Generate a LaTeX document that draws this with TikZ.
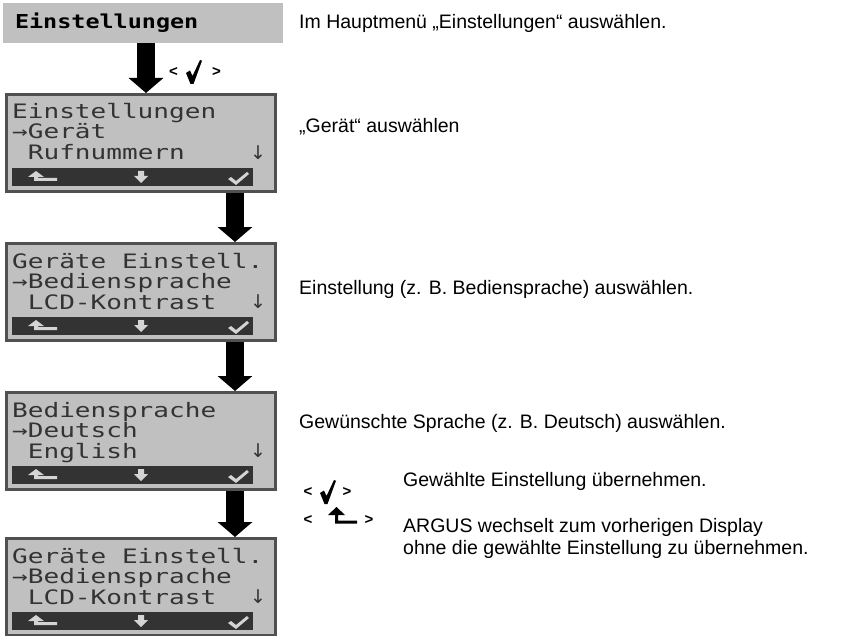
\documentclass[tikz,border=0pt]{standalone}
\usepackage{fontspec}
\setmainfont{Liberation Sans}
\newfontfamily\lcdfont[FakeStretch=1.31]{DejaVu Sans Mono}
\newfontfamily\hdrfont[FakeStretch=1.22]{DejaVu Sans Mono}
\newfontfamily\markfont{DejaVu Sans}
\usetikzlibrary{arrows.meta}

\definecolor{lcdgrey}{HTML}{C0C0C0}
\definecolor{lcdink}{HTML}{333333}
\definecolor{lcdframe}{HTML}{505050}
\definecolor{barkey}{HTML}{D4D4D4}

\tikzset{
	hdrbox/.style={fill=lcdgrey,anchor=north west,minimum width=280pt,minimum height=40pt,text width=256pt,inner xsep=12pt,inner ysep=0pt,outer sep=0pt,align=left,font=\hdrfont\bfseries\fontsize{19.2}{20}\selectfont},
	lcdbox/.style={draw=lcdframe,line width=3pt,fill=lcdgrey,anchor=north west,minimum width=269pt,minimum height=97pt,inner sep=0pt},
	lcdbar/.style={fill=lcdink,anchor=north west,minimum width=241pt,minimum height=18pt,inner sep=0pt,outer sep=0pt},
	lcdline/.style={anchor=base west,inner sep=0pt,text=lcdink,font=\lcdfont\fontsize{19.9}{20}\selectfont},
	lcdmore/.style={inner sep=0pt,text=lcdink,font=\markfont\fontsize{19}{20}\selectfont},
	flowarrow/.style={line width=18pt,-{Triangle[width=34pt,length=15pt]}},
	note/.style={anchor=base west,inner sep=0pt,font=\fontsize{19.5}{22.4}\selectfont},
	key/.style={inner sep=0pt,font=\bfseries\fontsize{15}{15}\selectfont},
	pics/lcdback/.style={code={\fill[barkey] (0,6) -- (8,0) -- (16,6) -- (10,6) -- (10,7) -- (29,7) -- (29,10) -- (6,10) -- (6,6) -- cycle;}},
	pics/lcddown/.style={code={\fill[barkey] (4,0) -- (10,0) -- (10,5) -- (14,5) -- (7,12) -- (0,5) -- (4,5) -- cycle;}},
	pics/lcdok/.style={code={\fill[barkey] (0,7) -- (3,5) -- (8,9) -- (19,0) -- (21,2) -- (8,13) -- cycle;}},
	pics/tick/.style={code={\fill (0,13) -- (4,10.5) -- (6.5,16) -- (14,0) -- (16,0.8) -- (7.5,24) -- (4.5,24) -- cycle;}},
	pics/retsym/.style={code={\fill (0,8) -- (8.5,0) -- (17,8) -- (10,8) -- (10,13.5) -- (29,13.5) -- (29,16.5) -- (7,16.5) -- (7,8) -- cycle;}}
}

% display: name, top edge, three lines
\newcommand\lcdpanel[5]{%
	\node[lcdbox] (#1) at (5,#2) {};
	\node[lcdbar] (#1bar) at (12,#2+75) {};
	\pic at (28,#2+78) {lcdback};
	\pic at (134,#2+78) {lcddown};
	\pic at (228,#2+79) {lcdok};
	\node[lcdline] (#1a) at (12,#2+26) {#3};
	\node[lcdline] (#1b) at (12,#2+46) {#4};
	\node[lcdline] (#1c) at (27.7,#2+67) {#5};
	\node[lcdmore] (#1more) at (258,#2+60) {↓};
}

\begin{document}
\begin{tikzpicture}[x=1pt,y=-1pt]
	\useasboundingbox (0,0) rectangle (858,636);

	\node[hdrbox] (hdr) at (3,3) {Einstellungen};

	\lcdpanel{lcdA}{93}{Einstellungen}{→Gerät}{Rufnummern}
	\lcdpanel{lcdB}{242}{Geräte Einstell.}{→Bediensprache}{LCD-Kontrast}
	\lcdpanel{lcdC}{391}{Bediensprache}{→Deutsch}{English}
	\lcdpanel{lcdD}{537}{Geräte Einstell.}{→Bediensprache}{LCD-Kontrast}

	\coordinate (colA) at (146,0);
	\coordinate (colB) at (235,0);
	\draw[flowarrow] (hdr.south -| colA) -- (lcdA.north -| colA);
	\draw[flowarrow] (lcdA.south -| colB) -- (lcdB.north -| colB);
	\draw[flowarrow] (lcdB.south -| colB) -- (lcdC.north -| colB);
	\draw[flowarrow] (lcdC.south -| colB) -- (lcdD.north -| colB);

	\node[key] (okl) at (173.5,72) {<};
	\pic at (186,60) {tick};
	\node[key] (okr) at (216.5,72) {>};

	\node[note] (stepA) at (299,29) {Im Hauptmenü „Einstellungen“ auswählen.};
	\node[note] (stepB) at (299,133) {„Gerät“ auswählen};
	\node[note] (stepC) at (299,294) {Einstellung (z. B. Bediensprache) auswählen.};
	\node[note] (stepD) at (299,428) {Gewünschte Sprache (z. B. Deutsch) auswählen.};

	\node[key] (okl2) at (308,492) {<};
	\pic at (320,480) {tick};
	\node[key] (okr2) at (347,492) {>};
	\node[note] (okhint) at (403,486) {Gewählte Einstellung übernehmen.};

	\node[key] (retl) at (308,520) {<};
	\pic at (328,507) {retsym};
	\node[key] (retr) at (369,520) {>};
	\node[note,anchor=north west,align=left] (rethint) at (403,518) {ARGUS wechselt zum vorherigen Display\\ohne die gewählte Einstellung zu übernehmen.};
\end{tikzpicture}
\end{document}
